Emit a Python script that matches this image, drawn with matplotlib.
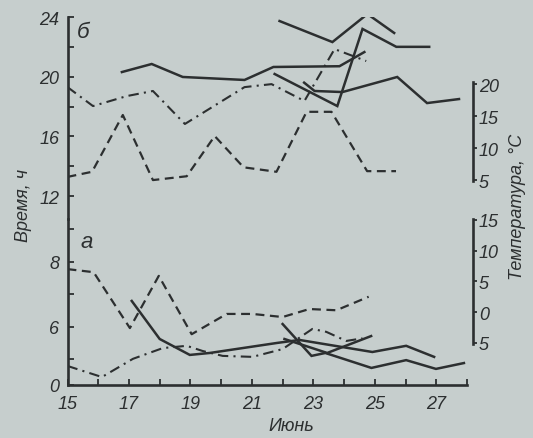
import matplotlib
matplotlib.use("Agg")
import matplotlib.pyplot as plt
from matplotlib.ticker import FixedLocator

# --- data ---
# x: day of June, y: hours (left scale) or deg C (right scale)

# panel б (top)
b_line1_x = [16.77, 17.74, 18.75, 20.76, 21.7, 23.85, 24.66]
b_line1_y = [20.31, 20.85, 19.98, 19.78, 20.65, 20.7, 21.65]
b_line2_x = [21.9, 23.62, 24.76, 25.63]
b_line2_y = [23.73, 22.32, 24.2, 22.93]
b_line3_x = [21.74, 23.78, 24.6, 25.7, 26.77]
b_line3_y = [20.18, 18.03, 23.2, 22.0, 22.0]
b_line4_x = [22.7, 23.04, 23.95, 25.73, 26.7, 27.74]
b_line4_y = [19.6, 19.04, 18.97, 19.98, 18.23, 18.5]
b_dashdot_x = [15.0, 15.83, 16.93, 17.78, 18.82, 20.76, 21.64, 22.71, 23.69, 24.72]
b_dashdot_y = [19.3, 18.03, 18.7, 19.04, 16.83, 19.3, 19.5, 18.37, 21.85, 21.05]
b_temp_x = [15.0, 15.8, 16.8, 17.78, 18.88, 19.79, 20.73, 21.8, 22.78, 23.59, 24.75, 25.69]
b_temp_t = [5.5, 6.3, 15.2, 5.0, 5.6, 11.9, 7.0, 6.3, 15.7, 15.7, 6.4, 6.4]

# panel а (bottom)
a_line1_x = [17.09, 18.0, 18.98, 19.63, 21.83, 22.55, 24.92, 26.02, 26.93]
a_line1_y = [6.8, 5.63, 5.14, 5.2, 5.51, 5.6, 5.23, 5.42, 5.08]
a_line2_x = [22.0, 22.94, 23.39, 24.89, 26.02, 26.99, 27.9]
a_line2_y = [6.09, 5.11, 5.2, 4.74, 4.98, 4.71, 4.89]
a_line3_x = [22.06, 23.45, 24.88]
a_line3_y = [5.63, 5.2, 5.72]
a_dashdot_x = [15.0, 16.12, 17.13, 18.1, 18.88, 19.4, 20.05, 21.02, 22.0, 22.97, 23.42, 24.07, 24.6]
a_dashdot_y = [4.8, 4.46, 5.02, 5.35, 5.42, 5.26, 5.11, 5.08, 5.32, 5.94, 5.85, 5.57, 5.65]
a_temp_x = [15.0, 15.85, 17.03, 17.97, 19.04, 20.18, 21.02, 22.0, 22.87, 23.75, 24.8]
a_temp_t = [7.0, 6.5, -2.6, 5.9, -3.6, -0.3, -0.3, -0.8, 0.5, 0.3, 2.5]

days = list(range(15, 29))
day_labels = [str(d) if d % 2 == 1 and d < 28 else "" for d in days]
b_hour_ticks = [12, 16, 20, 24]
b_hour_minor = [14, 18, 22]
a_hour_ticks = [4.215, 5, 6, 7, 8, 9]
a_hour_labels = ["0", "", "6", "", "8", ""]
b_temp_ticks = [5, 10, 15, 20]
a_temp_ticks = [-5, 0, 5, 10, 15]
a_temp_labels = ["5", "0", "5", "10", "15"]

# --- style ---
W, H = 533, 439
bg = "#c6cecd"
ink = "#2c2f30"
plt.rcParams["font.family"] = ["Liberation Sans Narrow", "Liberation Sans", "DejaVu Sans"]
plt.rcParams["font.style"] = "italic"
plt.rcParams["font.size"] = 13

dashed = (0, (4, 2.5))
dashdot = (0, (5, 2.5, 1, 2.5))

fig = plt.figure(figsize=(W / 100, H / 100), dpi=100, facecolor=bg)

def px(x0, y0, x1, y1):
    return [x0 / W, 1 - y1 / H, (x1 - x0) / W, (y1 - y0) / H]

ax_a = fig.add_axes(px(67.5, 220, 467, 386))
ax_b = fig.add_axes(px(67.5, 18, 467, 220), sharex=ax_a)

for ax in (ax_a, ax_b):
    ax.set_facecolor("none")
    ax.spines["top"].set_visible(False)
    ax.spines["right"].set_visible(False)
    for s in ("left", "bottom"):
        ax.spines[s].set_linewidth(1.9)
        ax.spines[s].set_color(ink)
    ax.tick_params(direction="in", width=1.3, length=4, color=ink,
                   labelcolor=ink, labelsize=13, pad=6)
    ax.tick_params(which="minor", direction="in", width=1.3, length=4, color=ink)

ax_b.spines["bottom"].set_visible(False)
ax_b.tick_params(axis="x", which="both", bottom=False, labelbottom=False)

ax_a.set_xlim(15, 28)
ax_a.set_xticks(days)
ax_a.set_xticklabels(day_labels)
ax_a.tick_params(axis="x", pad=7)

ax_b.set_ylim(10.46, 24)
ax_b.set_yticks(b_hour_ticks)
ax_b.yaxis.set_minor_locator(FixedLocator(b_hour_minor))

ax_a.set_ylim(4.215, 9.32)
ax_a.set_yticks(a_hour_ticks)
ax_a.set_yticklabels(a_hour_labels)

# temperature scales (right)
tb = ax_b.twinx()
ta = ax_a.twinx()
tb.set_ylim(-1.1, 30.56)
ta.set_ylim(-11.87, 15.16)
for t, lo, hi in ((tb, 4.8, 20.3), (ta, -5.2, 15.2)):
    t.set_facecolor("none")
    for s in ("top", "left", "bottom"):
        t.spines[s].set_visible(False)
    t.spines["right"].set_position(("outward", 4))
    t.spines["right"].set_bounds(lo, hi)
    t.spines["right"].set_linewidth(1.9)
    t.spines["right"].set_color(ink)
    t.tick_params(direction="out", width=1.3, length=3, color=ink,
                  labelcolor=ink, labelsize=13, pad=1.5)
tb.set_yticks(b_temp_ticks)
ta.set_yticks(a_temp_ticks)
ta.set_yticklabels(a_temp_labels)

# --- curves ---
lw = 1.8
for x, y in ((b_line1_x, b_line1_y), (b_line2_x, b_line2_y),
             (b_line3_x, b_line3_y), (b_line4_x, b_line4_y)):
    ax_b.plot(x, y, color=ink, lw=lw, solid_joinstyle="miter")
ax_b.plot(b_dashdot_x, b_dashdot_y, color=ink, lw=1.5, linestyle=dashdot)
tb.plot(b_temp_x, b_temp_t, color=ink, lw=1.6, linestyle=dashed)

for x, y in ((a_line1_x, a_line1_y), (a_line2_x, a_line2_y),
             (a_line3_x, a_line3_y)):
    ax_a.plot(x, y, color=ink, lw=lw, solid_joinstyle="miter")
ax_a.plot(a_dashdot_x, a_dashdot_y, color=ink, lw=1.5, linestyle=dashdot)
ta.plot(a_temp_x, a_temp_t, color=ink, lw=1.6, linestyle=dashed)

# --- texts ---
fig.text(83 / W, 1 - 33 / H, "б", fontsize=16, color=ink, ha="center", va="center")
fig.text(87 / W, 1 - 243 / H, "а", fontsize=16, color=ink, ha="center", va="center")
fig.text(23 / W, 1 - 205 / H, "Время, ч", rotation=90, fontsize=13,
         color=ink, ha="center", va="center")
fig.text(518 / W, 1 - 207 / H, "Температура, °С", rotation=90, fontsize=13,
         color=ink, ha="center", va="center")
fig.text(291 / W, 1 - 427 / H, "Июнь", fontsize=13, color=ink,
         ha="center", va="center")

fig.savefig("out.png", dpi=100, facecolor=bg)
